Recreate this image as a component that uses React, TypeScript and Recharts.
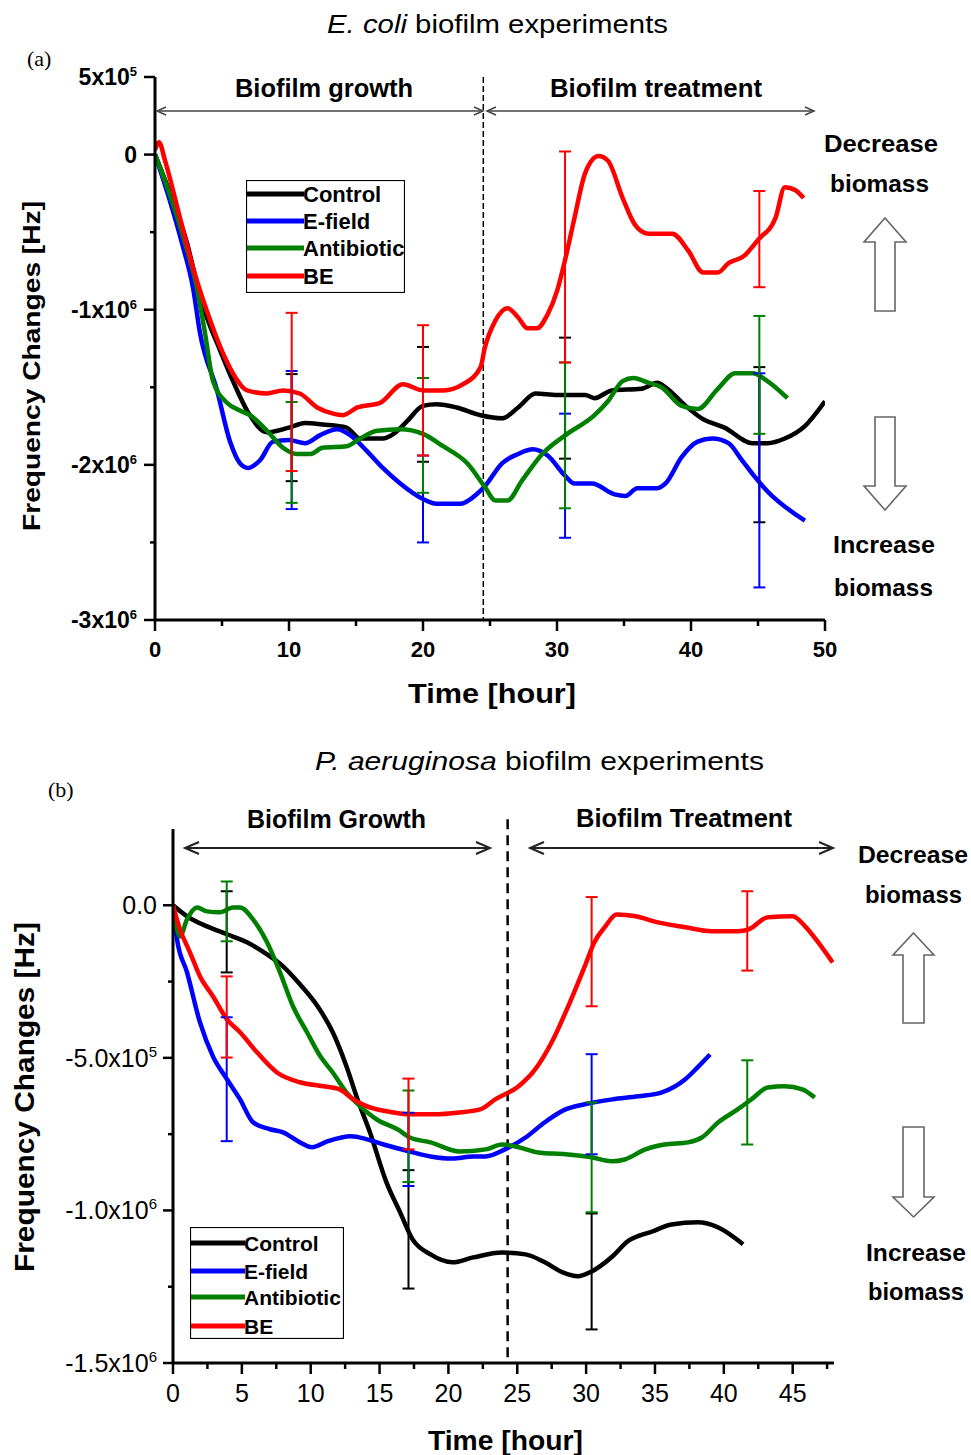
import React from 'react';
import { LineChart, Line, XAxis, YAxis, ReferenceLine, ErrorBar, Legend } from 'recharts';

type Pt = [number, number];
type ErrPt = [number, number, number];

// (a) E. coli — [time in hours, frequency change in units of 1e6 Hz]
const ecoliControl: Pt[] = [
  [0, 0], [1.34, -0.3], [2.39, -0.57], [3.13, -0.83], [3.88, -1.05], [4.85, -1.26], [5.82, -1.46],
  [6.94, -1.66], [8.36, -1.79], [10.0, -1.76], [11.2, -1.73], [12.5, -1.74], [14.3, -1.76], [15.3, -1.83],
  [17.0, -1.83], [17.8, -1.8], [18.8, -1.72], [20.0, -1.62], [21.0, -1.61], [22.5, -1.63], [24.3, -1.68],
  [25.9, -1.7], [27.1, -1.63], [28.4, -1.54], [30.0, -1.55], [32.1, -1.55], [32.8, -1.57], [34.1, -1.52],
  [36.3, -1.51], [37.5, -1.47], [38.1, -1.5], [39.6, -1.62], [40.8, -1.7], [42.5, -1.76], [44.6, -1.86],
  [45.7, -1.86], [47.0, -1.83], [48.5, -1.75], [50.0, -1.59],
];
const ecoliEfield: Pt[] = [
  [0, 0], [1.12, -0.3], [2.01, -0.57], [2.84, -0.86], [3.36, -1.15], [4.63, -1.52], [5.6, -1.85],
  [6.34, -1.99], [6.94, -2.02], [7.84, -1.97], [8.81, -1.85], [10.0, -1.84], [11.2, -1.86], [12.3, -1.81],
  [13.6, -1.77], [14.6, -1.81], [15.8, -1.91], [17.0, -2.02], [18.3, -2.12], [20.0, -2.22], [21.0, -2.25],
  [22.8, -2.25], [24.0, -2.19], [24.6, -2.14], [25.9, -1.99], [27.1, -1.93], [28.2, -1.9], [29.3, -1.94],
  [30.6, -2.07], [31.3, -2.12], [32.6, -2.12], [34.3, -2.19], [35.1, -2.2], [36.0, -2.15], [37.5, -2.15],
  [38.1, -2.12], [39.3, -1.95], [40.5, -1.85], [41.6, -1.83], [42.8, -1.86], [43.8, -1.97], [44.6, -2.06],
  [45.7, -2.17], [48.5, -2.36],
];
const ecoliAntibiotic: Pt[] = [
  [0, 0], [1.27, -0.3], [2.24, -0.57], [3.13, -0.86], [3.73, -1.15], [4.33, -1.46], [5.37, -1.6],
  [6.34, -1.65], [7.09, -1.68], [8.36, -1.78], [9.55, -1.89], [10.6, -1.93], [11.6, -1.93], [12.5, -1.89],
  [14.3, -1.88], [15.3, -1.83], [16.6, -1.78], [18.3, -1.77], [20.0, -1.8], [21.5, -1.88], [23.3, -1.99],
  [24.6, -2.14], [25.4, -2.23], [26.3, -2.23], [27.4, -2.1], [28.9, -1.93], [30.6, -1.81], [32.8, -1.68],
  [33.8, -1.59], [34.9, -1.46], [35.7, -1.44], [36.8, -1.47], [37.8, -1.5], [39.3, -1.62], [40.5, -1.64],
  [42.0, -1.51], [43.3, -1.41], [44.6, -1.41], [45.7, -1.46], [47.2, -1.57],
];
const ecoliBE: Pt[] = [
  [0, 0.03], [0.3, 0.08], [0.75, -0.04], [1.87, -0.41], [2.84, -0.73], [3.88, -1.01], [5.07, -1.28],
  [5.82, -1.41], [6.87, -1.52], [8.36, -1.54], [9.55, -1.52], [10.8, -1.54], [12.1, -1.63], [13.3, -1.67],
  [14.0, -1.68], [15.1, -1.63], [16.8, -1.6], [18.5, -1.48], [20.0, -1.52], [21.5, -1.52], [23.0, -1.48],
  [24.3, -1.37], [24.6, -1.25], [25.4, -1.07], [26.3, -0.99], [27.1, -1.05], [27.8, -1.12], [28.5, -1.12],
  [29.3, -1.03], [30.0, -0.88], [30.6, -0.68], [31.3, -0.41], [32.1, -0.12], [33.1, -0.01], [33.8, -0.04],
  [34.9, -0.28], [35.8, -0.45], [36.8, -0.51], [38.6, -0.51], [39.8, -0.62], [40.9, -0.76], [42.0, -0.76],
  [42.8, -0.7], [44.0, -0.65], [45.0, -0.55], [46.3, -0.41], [47.0, -0.21], [47.8, -0.23], [48.4, -0.28],
];

// error bars: [time, mean, +/- deviation]
const ecoliControlErr: ErrPt[] = [[10.2, -1.76, 0.345], [20.0, -1.61, 0.37], [30.6, -1.57, 0.39], [45.1, -1.87, 0.5]];
const ecoliEfieldErr: ErrPt[] = [[10.2, -1.84, 0.445], [20.0, -2.22, 0.28], [30.6, -2.07, 0.4], [45.1, -2.1, 0.69]];
const ecoliAntibioticErr: ErrPt[] = [[10.2, -1.92, 0.325], [20.0, -1.81, 0.37], [30.6, -1.81, 0.47], [45.1, -1.42, 0.38]];
const ecoliBEErr: ErrPt[] = [[10.2, -1.53, 0.51], [20.0, -1.52, 0.42], [30.6, -0.66, 0.68], [45.1, -0.545, 0.31]];

const ecoliXTicks = [0, 5, 10, 15, 20, 25, 30, 35, 40, 45, 50];
const ecoliXLabels = [0, 10, 20, 30, 40, 50];
const ecoliYTicks = [0.5, 0, -0.5, -1, -1.5, -2, -2.5, -3];
const ecoliYLabels: Record<string, [string, string]> = {
  '0.5': ['5x10', '5'], '0': ['0', ''], '-1': ['-1x10', '6'], '-2': ['-2x10', '6'], '-3': ['-3x10', '6'],
};
const ecoliTreatStart = 24.5;

// (b) P. aeruginosa — [time in hours, frequency change in units of 1e6 Hz]
const paeControl: Pt[] = [
  [0, 0], [1.02, -0.036], [2.47, -0.069], [3.92, -0.095], [5.37, -0.121], [6.83, -0.161], [7.99, -0.2],
  [9.22, -0.259], [10.5, -0.331], [11.6, -0.416], [12.6, -0.528], [13.4, -0.636], [14.3, -0.744],
  [15.5, -0.908], [16.5, -1.007], [17.4, -1.095], [18.7, -1.144], [20.3, -1.17], [21.8, -1.154],
  [23.9, -1.138], [25.6, -1.144], [27.0, -1.17], [28.3, -1.203], [29.4, -1.216], [30.4, -1.2],
  [31.9, -1.151], [33.0, -1.102], [34.8, -1.069], [36.2, -1.046], [38.1, -1.039], [39.6, -1.056], [41.4, -1.111],
];
const paeEfield: Pt[] = [
  [0, 0], [0.29, -0.111], [1.02, -0.22], [1.96, -0.384], [2.9, -0.495], [3.92, -0.57], [4.87, -0.636],
  [5.81, -0.711], [7.04, -0.734], [7.99, -0.744], [9.22, -0.777], [10.1, -0.793], [11.2, -0.774],
  [12.9, -0.757], [14.1, -0.767], [15.3, -0.784], [17.2, -0.807], [18.7, -0.823], [20.3, -0.83],
  [21.8, -0.823], [22.7, -0.823], [24.1, -0.8], [25.6, -0.761], [27.0, -0.711], [28.5, -0.669],
  [29.9, -0.652], [31.9, -0.636], [33.8, -0.626], [35.5, -0.613], [37.2, -0.57], [38.1, -0.531], [39.0, -0.489],
];
const paeAntibiotic: Pt[] = [
  [0, 0], [0.51, -0.102], [1.02, -0.046], [1.74, -0.007], [2.47, -0.02], [3.41, -0.023], [4.36, -0.007],
  [4.87, -0.007], [5.81, -0.046], [6.83, -0.121], [7.77, -0.22], [8.71, -0.331], [9.73, -0.416],
  [10.7, -0.495], [11.6, -0.548], [12.6, -0.613], [13.6, -0.659], [14.8, -0.702], [16.3, -0.734],
  [17.2, -0.761], [18.7, -0.777], [20.8, -0.807], [22.7, -0.8], [23.9, -0.784], [25.1, -0.793],
  [26.5, -0.81], [28.5, -0.816], [30.4, -0.826], [31.9, -0.839], [32.8, -0.833], [34.3, -0.8],
  [35.7, -0.784], [37.4, -0.777], [38.4, -0.761], [39.6, -0.711], [41.0, -0.669], [42.0, -0.636],
  [43.2, -0.597], [44.4, -0.593], [45.7, -0.603], [46.6, -0.63],
];
const paeBE: Pt[] = [
  [0, 0], [0.51, -0.079], [1.23, -0.154], [1.96, -0.233], [2.9, -0.298], [3.92, -0.374], [4.87, -0.416],
  [6.1, -0.482], [7.55, -0.548], [9.22, -0.58], [10.9, -0.593], [12.1, -0.603], [13.1, -0.636],
  [14.1, -0.659], [15.5, -0.675], [17.2, -0.685], [18.9, -0.685], [20.8, -0.679], [22.3, -0.669],
  [23.4, -0.636], [25.1, -0.593], [26.3, -0.538], [27.5, -0.449], [28.7, -0.331], [29.9, -0.2],
  [30.6, -0.121], [31.4, -0.069], [32.2, -0.03], [33.6, -0.036], [35.2, -0.056], [37.2, -0.072],
  [39.1, -0.085], [41.0, -0.085], [41.8, -0.079], [43.2, -0.039], [45.0, -0.036], [45.9, -0.069],
  [46.8, -0.118], [47.9, -0.187],
];

const paeControlErr: ErrPt[] = [[3.9, -0.087, 0.133], [17.1, -1.062, 0.194], [30.4, -1.2, 0.19]];
const paeEfieldErr: ErrPt[] = [[3.9, -0.57, 0.203], [17.1, -0.8, 0.12], [30.4, -0.652, 0.164]];
const paeAntibioticErr: ErrPt[] = [[3.9, -0.02, 0.098], [17.1, -0.757, 0.15], [30.4, -0.826, 0.18], [41.7, -0.646, 0.138]];
const paeBEErr: ErrPt[] = [[3.9, -0.366, 0.133], [17.1, -0.684, 0.116], [30.4, -0.152, 0.179], [41.7, -0.084, 0.13]];

const paeXTicks = [0, 2.5, 5, 7.5, 10, 12.5, 15, 17.5, 20, 22.5, 25, 27.5, 30, 32.5, 35, 37.5, 40, 42.5, 45, 47.5];
const paeXLabels = [0, 5, 10, 15, 20, 25, 30, 35, 40, 45];
const paeYTicks = [0, -0.25, -0.5, -0.75, -1, -1.25, -1.5];
const paeYLabels: Record<string, [string, string]> = {
  '0': ['0.0', ''], '-0.5': ['-5.0x10', '5'], '-1': ['-1.0x10', '6'], '-1.5': ['-1.5x10', '6'],
};
const paeTreatStart = 24.3;

const seriesNames = ['Control', 'E-field', 'Antibiotic', 'BE'];
const seriesColors = ['#000000', '#0000ff', '#008000', '#ff0000'];

const FONT = '"Liberation Sans", Arial, Helvetica, sans-serif';
const SERIF = '"Liberation Serif", "Times New Roman", serif';

const toRows = (pts: Pt[]) => pts.map(([t, v]) => ({ t, v }));
const toErrRows = (pts: ErrPt[]) => pts.map(([t, v, e]) => ({ t, v, e }));

interface TickStyle {
  size: number;
  bold: boolean;
  major: number;
  minor: number;
  gap: number;
  supSize: number;
  supRise: number;
  dy: number;
}

const YTick = ({ x, y, payload, labels, st }: any) => {
  const lab: [string, string] | undefined = labels[String(payload.value)];
  const s: TickStyle = st;
  return (
    <g>
      <line x1={x} y1={y} x2={x - (lab ? s.major : s.minor)} y2={y} stroke="#000" strokeWidth={2.5} />
      {lab && (
        <text x={x - s.gap} y={y + s.dy} textAnchor="end" fontFamily={FONT} fontSize={s.size}
          fontWeight={s.bold ? 'bold' : 'normal'} fill="#000">
          {lab[0]}
          {lab[1] && <tspan dy={-s.supRise} fontSize={s.supSize}>{lab[1]}</tspan>}
        </text>
      )}
    </g>
  );
};

const XTick = ({ x, y, payload, labels, st }: any) => {
  const major = labels.includes(payload.value);
  const s: TickStyle = st;
  return (
    <g>
      <line x1={x} y1={y} x2={x} y2={y + (major ? s.major : s.minor)} stroke="#000" strokeWidth={2.5} />
      {major && (
        <text x={x} y={y + s.dy} textAnchor="middle" fontFamily={FONT} fontSize={s.size}
          fontWeight={s.bold ? 'bold' : 'normal'} fill="#000">
          {payload.value}
        </text>
      )}
    </g>
  );
};

// only the four main series go in the legend, in plotting order
const LegendBox = ({ payload, w, h, lineW, rows, fontSize }: any) => {
  const items = (payload || [])
    .filter((a: any) => seriesNames.includes(a.value))
    .sort((a: any, b: any) => seriesNames.indexOf(a.value) - seriesNames.indexOf(b.value));
  return (
    <svg width={w} height={h} style={{ display: 'block' }}>
      <rect x={0.5} y={0.5} width={w - 1} height={h - 1} fill="#fff" stroke="#000" strokeWidth={1.2} />
      {items.map((p: any, i: number) => (
        <g key={p.value}>
          <line x1={1} x2={1 + lineW} y1={rows[i]} y2={rows[i]}
            stroke={seriesColors[seriesNames.indexOf(p.value)]} strokeWidth={5} />
          <text x={lineW} y={rows[i] + 8} fontFamily={FONT} fontWeight="bold" fontSize={fontSize} fill="#000">
            {p.value}
          </text>
        </g>
      ))}
    </svg>
  );
};

interface PanelProps {
  top: number;
  height: number;
  margin: { top: number; right: number; bottom: number; left: number };
  series: Pt[][];
  errs: ErrPt[][];
  xDomain: [number, number];
  xTicks: number[];
  xLabels: number[];
  yDomain: [number, number];
  yTicks: number[];
  yLabels: Record<string, [string, string]>;
  xStyle: TickStyle;
  yStyle: TickStyle;
  treat: number;
  dashTop: number;
  dash: string;
  dashWidth: number;
  legendPos: { left: number; top: number; w: number; h: number; lineW: number; rows: number[]; fontSize: number };
  axisWidth: number;
}

const Panel = (p: PanelProps) => (
  <div style={{ position: 'absolute', left: 0, top: p.top }}>
    <LineChart width={971} height={p.height} margin={p.margin}>
      <XAxis
        dataKey="t"
        type="number"
        domain={p.xDomain}
        ticks={p.xTicks}
        interval={0}
        allowDataOverflow
        height={40}
        tickSize={0}
        tickMargin={0}
        tickLine={false}
        axisLine={{ stroke: '#000', strokeWidth: p.axisWidth }}
        tick={(tp: any) => <XTick {...tp} labels={p.xLabels} st={p.xStyle} />}
      />
      <YAxis
        type="number"
        domain={p.yDomain}
        ticks={p.yTicks}
        interval={0}
        allowDataOverflow
        width={60}
        tickSize={0}
        tickMargin={0}
        tickLine={false}
        axisLine={{ stroke: '#000', strokeWidth: p.axisWidth }}
        tick={(tp: any) => <YTick {...tp} labels={p.yLabels} st={p.yStyle} />}
      />
      <ReferenceLine
        segment={[{ x: p.treat, y: p.dashTop }, { x: p.treat, y: p.yDomain[0] }]}
        ifOverflow="visible"
        stroke="#000"
        strokeWidth={p.dashWidth}
        strokeDasharray={p.dash}
      />
      {p.series.map((s, i) => (
        <Line
          key={seriesNames[i]}
          name={seriesNames[i]}
          data={toRows(s)}
          dataKey="v"
          type="monotone"
          stroke={seriesColors[i]}
          strokeWidth={4.5}
          dot={false}
          activeDot={false}
          isAnimationActive={false}
        />
      ))}
      {p.errs.map((s, i) => (
        <Line
          key={seriesNames[i] + '-err'}
          name={seriesNames[i] + ' sd'}
          data={toErrRows(s)}
          dataKey="v"
          stroke="none"
          dot={false}
          activeDot={false}
          legendType="none"
          isAnimationActive={false}
        >
          <ErrorBar dataKey="e" direction="y" width={6} strokeWidth={2} stroke={seriesColors[i]} isAnimationActive={false} />
        </Line>
      ))}
      <Legend
        layout="horizontal"
        align="center"
        verticalAlign="middle"
        wrapperStyle={{ left: p.legendPos.left, top: p.legendPos.top, width: p.legendPos.w, height: p.legendPos.h }}
        content={(lp: any) => (
          <LegendBox payload={lp.payload} w={p.legendPos.w} h={p.legendPos.h} lineW={p.legendPos.lineW}
            rows={p.legendPos.rows} fontSize={p.legendPos.fontSize} />
        )}
      />
    </LineChart>
  </div>
);

const DoubleArrow = ({ x1, x2, y, head, half, stroke, sw }: any) => (
  <g stroke={stroke} strokeWidth={sw} fill="none">
    <line x1={x1} y1={y} x2={x2} y2={y} />
    <polyline points={`${x1 + head},${y - half} ${x1},${y} ${x1 + head},${y + half}`} />
    <polyline points={`${x2 - head},${y - half} ${x2},${y} ${x2 - head},${y + half}`} />
  </g>
);

const BlockArrow = ({ cx, tip, base, wingY, halfW, halfS }: any) => (
  <polygon
    points={[
      [cx, tip], [cx + halfW, wingY], [cx + halfS, wingY], [cx + halfS, base],
      [cx - halfS, base], [cx - halfS, wingY], [cx - halfW, wingY],
    ].map((q) => q.join(',')).join(' ')}
    fill="#fff"
    stroke="#666"
    strokeWidth={1.6}
  />
);

const Txt = ({ x, y, w, size, bold, anchor = 'middle', children, rotate }: any) => (
  <text
    x={x}
    y={y}
    textAnchor={anchor}
    fontFamily={FONT}
    fontSize={size}
    fontWeight={bold ? 'bold' : 'normal'}
    fill="#000"
    textLength={w}
    lengthAdjust="spacingAndGlyphs"
    transform={rotate ? `rotate(-90, ${x}, ${y})` : undefined}
  >
    {children}
  </text>
);

const Annotations = () => (
  <svg width={971} height={1455} style={{ position: 'absolute', left: 0, top: 0, pointerEvents: 'none' }}>
    {/* panel (a) */}
    <text x={27} y={66} fontFamily={SERIF} fontSize={22} fill="#000">(a)</text>
    <Txt x={327} y={33} w={341} size={26} anchor="start">
      <tspan fontStyle="italic">E. coli</tspan> biofilm experiments
    </Txt>
    <Txt x={235} y={97} w={178} size={25} bold anchor="start">Biofilm growth</Txt>
    <Txt x={550} y={97} w={212} size={25} bold anchor="start">Biofilm treatment</Txt>
    <DoubleArrow x1={157} x2={483} y={111} head={9} half={4} stroke="#444" sw={1.5} />
    <DoubleArrow x1={487} x2={814} y={111} head={9} half={4} stroke="#444" sw={1.5} />
    <Txt x={881} y={152} w={114} size={24} bold>Decrease</Txt>
    <Txt x={879.5} y={192} w={99} size={24} bold>biomass</Txt>
    <Txt x={884} y={553} w={102} size={24} bold>Increase</Txt>
    <Txt x={883.5} y={596} w={99} size={24} bold>biomass</Txt>
    <BlockArrow cx={885} tip={218} wingY={242} base={311} halfW={21} halfS={10} />
    <BlockArrow cx={885} tip={510} wingY={486} base={417} halfW={21} halfS={10} />
    <Txt x={40} y={366} w={330} size={23} bold rotate>Frequency Changes [Hz]</Txt>
    <Txt x={408} y={703} w={168} size={28} bold anchor="start">Time [hour]</Txt>

    {/* panel (b) */}
    <text x={48} y={797} fontFamily={SERIF} fontSize={22} fill="#000">(b)</text>
    <Txt x={315} y={770} w={449} size={26} anchor="start">
      <tspan fontStyle="italic">P. aeruginosa</tspan> biofilm experiments
    </Txt>
    <Txt x={247} y={828} w={179} size={25} bold anchor="start">Biofilm Growth</Txt>
    <Txt x={576} y={827} w={216} size={25} bold anchor="start">Biofilm Treatment</Txt>
    <DoubleArrow x1={185} x2={490} y={848} head={14} half={6} stroke="#222" sw={2} />
    <DoubleArrow x1={530} x2={833} y={848} head={14} half={6} stroke="#222" sw={2} />
    <Txt x={913} y={863} w={110} size={24} bold>Decrease</Txt>
    <Txt x={913.5} y={903} w={97} size={24} bold>biomass</Txt>
    <Txt x={916} y={1261} w={100} size={24} bold>Increase</Txt>
    <Txt x={916} y={1300} w={96} size={24} bold>biomass</Txt>
    <BlockArrow cx={913.5} tip={933} wingY={955} base={1023} halfW={20.5} halfS={10.5} />
    <BlockArrow cx={913.5} tip={1217} wingY={1197} base={1127} halfW={20.5} halfS={10.5} />
    <Txt x={34} y={1097} w={350} size={27} bold rotate>Frequency Changes [Hz]</Txt>
    <Txt x={428} y={1450} w={155} size={27} bold anchor="start">Time [hour]</Txt>
  </svg>
);

export default function App() {
  return (
    <div style={{ position: 'absolute', left: 0, top: 0, width: 971, height: 1455, background: '#fff', overflow: 'hidden' }}>
      <Panel
        top={0}
        height={720}
        margin={{ top: 77, right: 146, bottom: 60, left: 95 }}
        series={[ecoliControl, ecoliEfield, ecoliAntibiotic, ecoliBE]}
        errs={[ecoliControlErr, ecoliEfieldErr, ecoliAntibioticErr, ecoliBEErr]}
        xDomain={[0, 50]}
        xTicks={ecoliXTicks}
        xLabels={ecoliXLabels}
        yDomain={[-3, 0.5]}
        yTicks={ecoliYTicks}
        yLabels={ecoliYLabels}
        xStyle={{ size: 22, bold: true, major: 11, minor: 6, gap: 0, supSize: 0, supRise: 0, dy: 37 }}
        yStyle={{ size: 23, bold: true, major: 11, minor: 5, gap: 18, supSize: 13, supRise: 9, dy: 8 }}
        treat={ecoliTreatStart}
        dashTop={0.5}
        dash="6 3"
        dashWidth={1.5}
        axisWidth={3}
        legendPos={{ left: 246, top: 180, w: 159, h: 113, lineW: 57, rows: [14, 41, 68, 96], fontSize: 22 }}
      />
      <Panel
        top={720}
        height={735}
        margin={{ top: 109, right: 137, bottom: 52, left: 113 }}
        series={[paeControl, paeEfield, paeAntibiotic, paeBE]}
        errs={[paeControlErr, paeEfieldErr, paeAntibioticErr, paeBEErr]}
        xDomain={[0, 48]}
        xTicks={paeXTicks}
        xLabels={paeXLabels}
        yDomain={[-1.5, 0.25]}
        yTicks={paeYTicks}
        yLabels={paeYLabels}
        xStyle={{ size: 25, bold: false, major: 11, minor: 6, gap: 0, supSize: 0, supRise: 0, dy: 39 }}
        yStyle={{ size: 25, bold: false, major: 10, minor: 5, gap: 16, supSize: 15, supRise: 10, dy: 9 }}
        treat={paeTreatStart}
        dashTop={0.282}
        dash="10 6"
        dashWidth={2.5}
        axisWidth={3}
        legendPos={{ left: 190, top: 507, w: 154, h: 112, lineW: 54, rows: [16, 44, 70, 99], fontSize: 21 }}
      />
      <Annotations />
    </div>
  );
}
